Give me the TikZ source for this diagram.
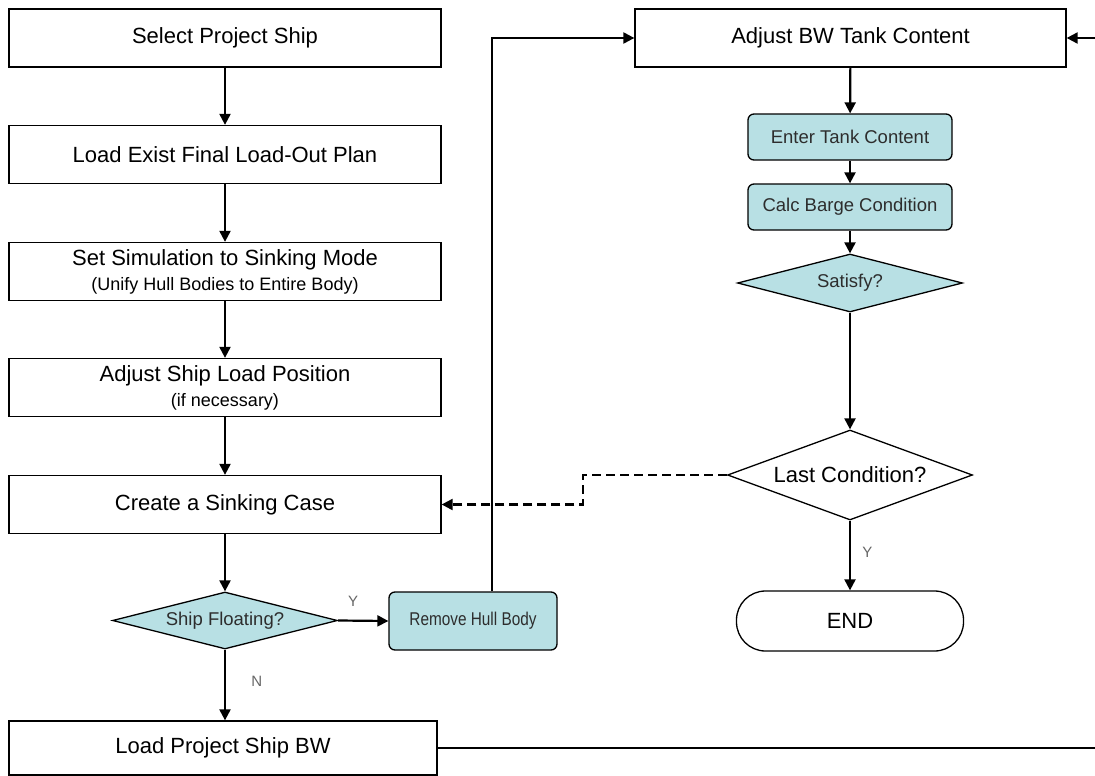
\documentclass[tikz,border=0pt]{standalone}
\usepackage{fontspec}
\usepackage{graphicx}
\setmainfont{Liberation Sans}
\usetikzlibrary{arrows.meta,shapes.geometric,calc}
\definecolor{teal1}{RGB}{184,224,228}
\definecolor{txtgray}{RGB}{45,45,45}
\newcommand\bigtxt{\fontsize{22}{26}\selectfont}
\newcommand\subtxt{\fontsize{18}{22}\selectfont}
\newcommand\tealtxt{\fontsize{18.5}{22}\selectfont}
\tikzset{
  px/.style={x=1pt,y=-1pt},
  whitebox/.style={draw=black,line width=1.3pt,fill=white,rectangle,
    minimum width=432pt,minimum height=58pt,inner sep=0pt,align=center,font=\bigtxt},
  procbox/.style={draw=black,line width=1.3pt,fill=teal1,rectangle,rounded corners=6pt,
    minimum width=204pt,minimum height=46pt,inner sep=0pt,font=\tealtxt,text=txtgray},
  decide/.style={draw=black,line width=1.3pt,diamond,inner sep=0pt},
  termbox/.style={draw=black,line width=1.3pt,rectangle,rounded corners=29pt,
    minimum width=227pt,minimum height=60pt,inner sep=0pt,font=\bigtxt},
  arr/.style={line width=2.2pt,-{Triangle[length=11pt,width=11pt]}},
  lbl/.style={font=\fontsize{15}{18}\selectfont,text=gray!80!black}
}
\begin{document}
\begin{tikzpicture}[px]
\useasboundingbox (0,0) rectangle (1095,776);

% left column
\node[whitebox] (sel) at (225,38) {Select Project Ship};
\node[whitebox] (lef) at (225,154.5) {Load Exist Final Load-Out Plan};
\node[whitebox] (sim) at (225,271.5) {Set Simulation to Sinking Mode\\[-1pt]{\subtxt (Unify Hull Bodies to Entire Body)}};
\node[whitebox] (adj) at (225,387.5) {Adjust Ship Load Position\\[-1pt]{\subtxt (if necessary)}};
\node[whitebox] (cre) at (225,504.5) {Create a Sinking Case};
\node[decide,fill=teal1,minimum width=225pt,minimum height=57pt,shape aspect=3.9,
      font=\tealtxt,text=txtgray] (flt) at (225,620.5) {Ship Floating?};
\node[procbox,minimum width=168pt,minimum height=58pt] (rhb) at (473,621) {\scalebox{0.83}[1]{Remove Hull Body}};
\node[whitebox,minimum width=428pt,minimum height=54pt] (lbw) at (223,748) {Load Project Ship BW};

% right column
\node[whitebox,minimum width=431pt] (bw) at (850.5,38) {Adjust BW Tank Content};
\node[procbox] (etc) at (850,137) {Enter Tank Content};
\node[procbox] (cbc) at (850,207) {Calc Barge Condition};
\node[decide,fill=teal1,minimum width=225pt,minimum height=58pt,shape aspect=3.9,
      font=\tealtxt,text=txtgray] (sat) at (850,283) {Satisfy?};
\node[decide,fill=white,minimum width=245pt,minimum height=90pt,shape aspect=2.7,
      font=\bigtxt] (lst) at (850,475) {Last Condition?};
\node[termbox] (end) at (850,621) {END};

\coordinate (rt) at (1120,748);

% connectors, left column
\draw[arr] (sel) -- (lef);
\draw[arr] (lef) -- (sim);
\draw[arr] (sim) -- (adj);
\draw[arr] (adj) -- (cre);
\draw[arr] (cre) -- (flt);
\draw[arr] (flt.south) -- node[lbl,right,pos=0.45,xshift=22pt] {N} (flt.south |- lbw.north);
\draw[arr] (flt.east) -- node[lbl,above,pos=0.3,yshift=10pt] {Y} (rhb.west);
\draw[arr] ([xshift=19pt]rhb.north) |- (bw.west);
\draw[arr] (lbw.east) -- (rt) |- (bw.east);

% connectors, right column
\draw[arr] (bw) -- (etc);
\draw[arr] (etc) -- (cbc);
\draw[arr] (cbc) -- (sat);
\draw[arr] (sat) -- (lst);
\draw[arr] (lst) -- node[lbl,right,pos=0.45,xshift=8pt] {Y} (end);
\draw[arr,dashed,dash pattern=on 9pt off 5pt] (lst.west) -- ++(-144,0) |- (cre.east);
\end{tikzpicture}
\end{document}
